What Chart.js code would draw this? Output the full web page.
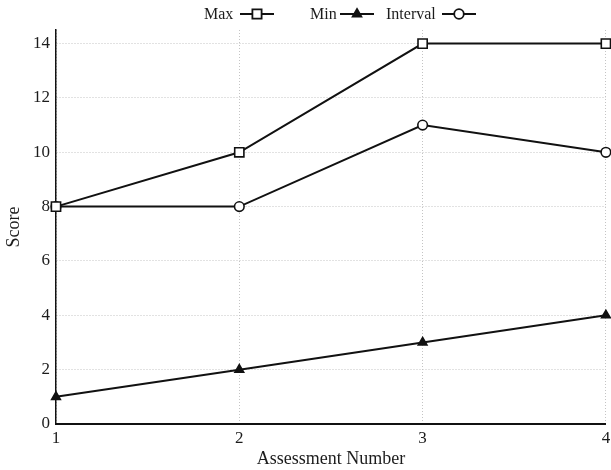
<!DOCTYPE html>
<html>
<head>
<meta charset="utf-8">
<script src="https://cdn.jsdelivr.net/npm/chart.js@4/dist/chart.umd.min.js"></script>
<style>
  html, body { margin: 0; padding: 0; background: #fff; overflow: hidden; }
  #wrap { width: 611px; height: 470px; position: relative; overflow: hidden; }
</style>
</head>
<body>
<div id="wrap"><canvas id="c" width="614" height="470"></canvas></div>
<script>
// Assessment scores per attempt
const assessments = [1, 2, 3, 4];
const maxScores = [8, 10, 14, 14];
const minScores = [1, 2, 3, 4];
const intervalScores = [8, 8, 11, 10];
const yTickValues = [0, 2, 4, 6, 8, 10, 12, 14];

const FONT = '"Liberation Serif", "DejaVu Serif", serif';
const INK = '#1c1c1c';

const series = [
  { label: 'Max', values: maxScores, style: 'rect', radius: 6.5, fill: '#fff', textX: 204, lineX: 240 },
  { label: 'Min', values: minScores, style: 'triangle', radius: 5, fill: '#111', textX: 310, lineX: 340 },
  { label: 'Interval', values: intervalScores, style: 'circle', radius: 4.8, fill: '#fff', textX: 386, lineX: 442 }
];

const datasets = series.map(s => ({
  label: s.label,
  data: assessments.map((x, i) => ({ x: x, y: s.values[i] })),
  borderColor: '#111',
  borderWidth: 2,
  pointStyle: s.style,
  pointRadius: s.radius,
  pointBackgroundColor: s.fill,
  pointBorderColor: '#111',
  pointBorderWidth: 1.6,
  tension: 0,
  clip: false
}));

// Legend drawn as "label —marker—" entries across the top
const topLegend = {
  id: 'topLegend',
  afterDraw(chart) {
    const ctx = chart.ctx;
    ctx.save();
    ctx.font = '16px ' + FONT;
    ctx.textBaseline = 'middle';
    const y = 14;
    const lineLen = 34;
    series.forEach(s => {
      ctx.fillStyle = INK;
      ctx.textAlign = 'left';
      ctx.fillText(s.label, s.textX, y + 1);
      const x = s.lineX;
      ctx.strokeStyle = '#111';
      ctx.lineWidth = 2;
      ctx.beginPath();
      ctx.moveTo(x, y);
      ctx.lineTo(x + lineLen, y);
      ctx.stroke();
      ctx.fillStyle = s.fill;
      ctx.lineWidth = 1.8;
      Chart.helpers.drawPoint(ctx, {
        pointStyle: s.style, radius: s.radius, borderWidth: 1.8, rotation: 0
      }, x + lineLen / 2, y);
    });
    ctx.restore();
  }
};

new Chart(document.getElementById('c'), {
  type: 'line',
  data: { datasets: datasets },
  plugins: [topLegend],
  options: {
    responsive: false,
    animation: false,
    layout: { padding: { top: 30, right: 0, left: 0, bottom: 0 } },
    plugins: { legend: { display: false }, tooltip: { enabled: false } },
    scales: {
      x: {
        type: 'linear',
        min: 1,
        max: 4,
        afterBuildTicks: s => { s.ticks = assessments.map(v => ({ value: v })); },
        afterFit: s => { s.height = 46; s.paddingRight = 0; s.paddingLeft = 0; },
        ticks: { color: INK, font: { family: FONT, size: 17 }, padding: 4, maxRotation: 0 },
        grid: { color: '#c4c4c4', lineWidth: 1, drawTicks: false },
        border: { color: '#111', width: 2, dash: [1, 2] },
        title: {
          display: true,
          text: 'Assessment Number',
          color: INK,
          font: { family: FONT, size: 18 },
          padding: { top: 0, bottom: 0 }
        }
      },
      y: {
        min: 0,
        max: 14.5,
        afterBuildTicks: s => { s.ticks = yTickValues.map(v => ({ value: v })); },
        afterFit: s => { s.width = 56; },
        ticks: { color: INK, font: { family: FONT, size: 17 }, padding: 6 },
        grid: { color: '#c4c4c4', lineWidth: 1, drawTicks: false },
        border: { color: '#111', width: 1.5, dash: [1, 2] },
        title: {
          display: true,
          text: 'Score',
          color: INK,
          font: { family: FONT, size: 18 },
          padding: { top: 3, bottom: 0 }
        }
      }
    }
  }
});
</script>
</body>
</html>
